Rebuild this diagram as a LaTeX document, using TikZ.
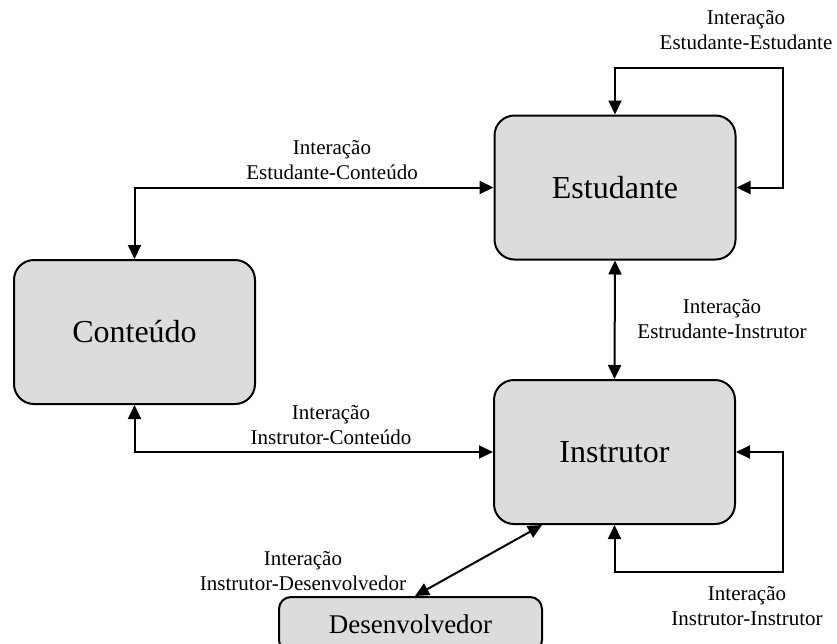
\documentclass[tikz,border=0pt]{standalone}
\usepackage{fontspec}
\setmainfont{Liberation Serif}
\usetikzlibrary{arrows.meta}

\begin{document}
\begin{tikzpicture}[x=1pt, y=-1pt,
  actor/.style={draw=black, line width=2pt, fill=boxgray, rounded corners=20pt,
    inner sep=0pt, minimum width=241pt, minimum height=144pt,
    font=\fontsize{32}{38}\selectfont},
  link/.style={line width=2pt, {Triangle[length=14pt,width=13pt]}-{Triangle[length=14pt,width=13pt]}},
  tag/.style={align=center, inner sep=0pt, font=\fontsize{21}{25}\selectfont}
]
\definecolor{boxgray}{HTML}{DCDCDC}
\useasboundingbox (0,0) rectangle (837,643);
\clip (0,0) rectangle (837,643);

% the four actors
\node[actor] (est) at (615,187.5) {Estudante};
\node[actor] (con) at (134.5,332) {Conteúdo};
\node[actor] (ins) at (614.5,452) {Instrutor};
\node[actor, minimum width=263pt, minimum height=55pt, rounded corners=12pt,
      font=\fontsize{27}{32}\selectfont] (dev) at (410.5,624.5) {Desenvolvedor};

% corners of the self-loops
\coordinate (estloop) at (783,68);
\coordinate (insloop) at (783,572);

% interactions
\draw[link] (con.north) |- (est.west);
\draw[link] (est.north) |- (estloop) |- (est.east);
\draw[link] (est.south) -- (ins.north);
\draw[link] (con.south) |- (ins.west);
\draw[link] (ins.south) |- (insloop) |- (ins.east);
\draw[link] ([xshift=4.5pt]dev.north) -- ([xshift=-72.5pt]ins.south);

% labels
\node[tag] (lee) at (746,30.5) {Interação\\Estudante-Estudante};
\node[tag] (lec) at (332,160.5) {Interação\\Estudante-Conteúdo};
\node[tag] (lei) at (722,319.5) {Interação\\Estrudante-Instrutor};
\node[tag] (lic) at (331,425.5) {Interação\\Instrutor-Conteúdo};
\node[tag] (lii) at (747,606.5) {Interação\\Instrutor-Instrutor};
\node[tag] (lid) at (303,571.5) {Interação\\Instrutor-Desenvolvedor};
\end{tikzpicture}
\end{document}
